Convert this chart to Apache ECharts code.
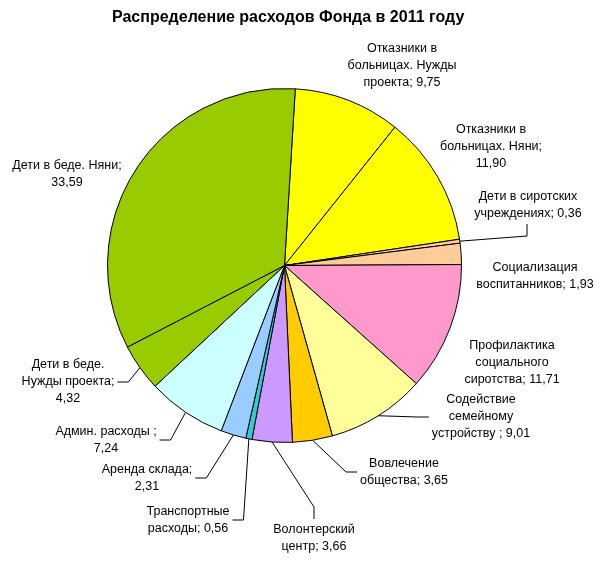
<!DOCTYPE html>
<html>
<head>
<meta charset="utf-8">
<script src="https://cdn.jsdelivr.net/npm/echarts@6/dist/echarts.min.js"></script>
<style>
html,body{margin:0;padding:0;background:#fff;}
#chart{width:603px;height:563px;}
</style>
</head>
<body>
<div id="chart"></div>
<script>
// Categories (label wrapping included)
const categories = [
  "Отказники в\nбольницах. Нужды\nпроекта",
  "Отказники в\nбольницах. Няни",
  "Дети в сиротских\nучреждениях",
  "Социализация\nвоспитанников",
  "Профилактика\nсоциального\nсиротства",
  "Содействие\nсемейному\nустройству ",
  "Вовлечение\nобщества",
  "Волонтерский\nцентр",
  "Транспортные\nрасходы",
  "Аренда склада",
  "Админ. расходы ",
  "Дети в беде.\nНужды проекта",
  "Дети в беде. Няни"
];
// Expense shares, %
const values = [9.75, 11.90, 0.36, 1.93, 11.71, 9.01, 3.65, 3.66, 0.56, 2.31, 7.24, 4.32, 33.59];
// Whether the value goes on its own line in the label
const valueOnNewLine = [false, true, false, false, false, false, false, false, false, true, true, true, true];
const colors = ["#FFFF00", "#FFFF00", "#FFCC99", "#FFCC99", "#FF99CC", "#FFFF99", "#FFCC00",
                "#CC99FF", "#33CCCC", "#99CCFF", "#CCFFFF", "#99CC00", "#99CC00"];

// Label placement (Excel-like), and side of the label where the leader line attaches
const labelPlacement = [
  {x: 402, y: 66},
  {x: 491, y: 147},
  {x: 528, y: 205, side: 'bottom'},
  {x: 535, y: 276},
  {x: 512, y: 363},
  {x: 481, y: 417, side: 'left'},
  {x: 404, y: 472, side: 'left'},
  {x: 314, y: 538, side: 'top'},
  {x: 188, y: 520, side: 'right'},
  {x: 147, y: 478, side: 'right'},
  {x: 106, y: 440, side: 'right'},
  {x: 68, y: 382, side: 'right'},
  {x: 67, y: 174}
];

const FONT = "Arial, 'Liberation Sans', sans-serif";

const chart = echarts.init(document.getElementById('chart'), null, {renderer: 'canvas'});

const data = categories.map((name, i) => ({
  name: name,
  value: values[i],
  itemStyle: {color: colors[i]},
  labelLine: {show: !!labelPlacement[i].side}
}));

function fmt(v) { return v.toFixed(2).replace('.', ','); }

chart.setOption({
  animation: false,
  backgroundColor: '#ffffff',
  title: {
    text: 'Распределение расходов Фонда в 2011 году',
    left: 107,
    top: 5,
    textStyle: {fontFamily: FONT, fontSize: 16, fontWeight: 'bold', color: '#000'}
  },
  series: [{
    type: 'pie',
    center: [284.5, 265.5],
    radius: 177,
    startAngle: 86.5,
    clockwise: true,
    avoidLabelOverlap: false,
    data: data,
    itemStyle: {borderColor: '#000', borderWidth: 1},
    emphasis: {disabled: true},
    label: {
      show: true,
      position: 'outside',
      fontFamily: FONT,
      fontSize: 12.5,
      lineHeight: 17,
      color: '#000',
      formatter: (p) => p.name + (valueOnNewLine[p.dataIndex] ? ';\n' : '; ') + fmt(p.value)
    },
    labelLine: {
      length: 10,
      length2: 10,
      lineStyle: {color: '#000', width: 1}
    },
    labelLayout: function (params) {
      const pl = labelPlacement[params.dataIndex];
      const res = {x: pl.x, y: pl.y, align: 'center', verticalAlign: 'middle'};
      if (pl.side && params.labelLinePoints) {
        const a = params.labelLinePoints[0];
        const w = params.labelRect.width, h = params.labelRect.height;
        let end, elbow;
        if (pl.side === 'left') { end = [pl.x - w / 2 - 3, pl.y]; elbow = [end[0] - 11, pl.y]; }
        else if (pl.side === 'right') { end = [pl.x + w / 2 + 3, pl.y]; elbow = [end[0] + 11, pl.y]; }
        else if (pl.side === 'top') { end = [pl.x, pl.y - h / 2 - 2]; elbow = [pl.x, end[1] - 12]; }
        else { end = [pl.x - 1, pl.y + h / 2 + 2]; elbow = [pl.x - 1, end[1] + 12]; }
        res.labelLinePoints = [a, elbow, end];
      }
      return res;
    }
  }]
});
</script>
</body>
</html>
